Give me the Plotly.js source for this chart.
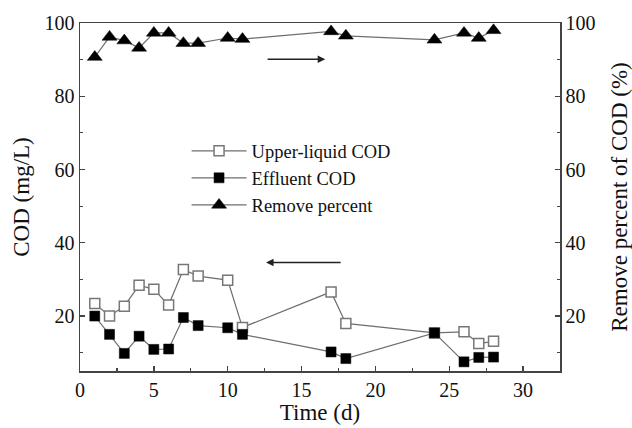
<!DOCTYPE html>
<html>
<head>
<meta charset="utf-8">
<script src="https://cdn.plot.ly/plotly-3.0.1.min.js"></script>
<style>html,body{margin:0;padding:0;background:#fff;}#chart{width:632px;height:428px;}</style>
</head>
<body>
<div id="chart"></div>
<script>
const days = [1, 2, 3, 4, 5, 6, 7, 8, 10, 11, 17, 18, 24, 26, 27, 28];
const upperCOD = [23.4, 20.0, 22.7, 28.4, 27.3, 23.0, 32.7, 30.9, 29.8, 16.9, 26.6, 18.0, 15.4, 15.7, 12.5, 13.1];
const effluentCOD = [20.0, 15.0, 9.8, 14.5, 10.9, 11.0, 19.6, 17.4, 16.8, 15.0, 10.2, 8.4, 15.4, 7.5, 8.7, 8.8];
const removePercent = [90.7, 96.2, 95.2, 93.2, 97.3, 97.3, 94.5, 94.5, 95.9, 95.6, 97.7, 96.5, 95.4, 97.3, 95.9, 98.0];
const seriesNames = ["Upper-liquid COD", "Effluent COD", "Remove percent"];
const xTitle = "Time (d)";
const yTitle = "COD (mg/L)";
const y2Title = "Remove percent of COD (%)";
// arrows: [xFrom, xTo, y]
const arrowRight = [12.6, 16.6, 90.1];
const arrowLeft = [17.75, 12.6, 34.6];

const serif = "Liberation Serif, Times New Roman, serif";
const lineCol = "#6e6e6e";
const axisCol = "#444";

const traces = [
  {x: days, y: upperCOD, name: seriesNames[0], type: "scatter", mode: "lines+markers",
   line: {color: lineCol, width: 1.2},
   marker: {symbol: "square", size: 10, color: "#fff", line: {color: "#777", width: 1.5}}},
  {x: days, y: effluentCOD, name: seriesNames[1], type: "scatter", mode: "lines+markers",
   line: {color: lineCol, width: 1.2},
   marker: {symbol: "square", size: 10, color: "#000", line: {color: "#000", width: 0.5}}},
  {x: days, y: removePercent, name: seriesNames[2], type: "scatter", mode: "lines+markers", yaxis: "y2",
   line: {color: lineCol, width: 1.2},
   marker: {symbol: "triangle-up", size: 13, color: "#000", line: {color: "#000", width: 0.5}}}
];

const axCommon = {
  showgrid: false, zeroline: false, showline: true, linecolor: axisCol, linewidth: 1.5,
  ticks: "inside", ticklen: 5, tickwidth: 1.3, tickcolor: axisCol,
  tickfont: {family: serif, size: 20, color: "#111"}
};

const layout = {
  width: 632, height: 428,
  margin: {l: 80, r: 72, t: 23, b: 57},
  paper_bgcolor: "#fff", plot_bgcolor: "#fff",
  showlegend: true,
  legend: {x: 0.222, y: 0.686, xanchor: "left", yanchor: "top", bgcolor: "rgba(0,0,0,0)",
           font: {family: serif, size: 18.5, color: "#111"}, itemwidth: 55, tracegroupgap: 0},
  xaxis: Object.assign({}, axCommon, {
    range: [0, 32.5], tick0: 0, dtick: 5, mirror: true,
    minor: {ticks: "inside", ticklen: 3, tickwidth: 1.2, tickcolor: axisCol, dtick: 2.5, tick0: 0},
    title: {text: xTitle, font: {family: serif, size: 23, color: "#111"}, standoff: 4}
  }),
  yaxis: Object.assign({}, axCommon, {
    range: [5, 100], tick0: 0, dtick: 20,
    minor: {ticks: "inside", ticklen: 3, tickwidth: 1.2, tickcolor: axisCol, dtick: 10, tick0: 0},
    title: {text: yTitle, font: {family: serif, size: 23, color: "#111"}, standoff: 8}
  }),
  yaxis2: Object.assign({}, axCommon, {
    range: [5, 100], tick0: 0, dtick: 20, overlaying: "y", side: "right",
    minor: {ticks: "inside", ticklen: 3, tickwidth: 1.2, tickcolor: axisCol, dtick: 10, tick0: 0},
    title: {text: y2Title, font: {family: serif, size: 23, color: "#111"}, standoff: 16}
  }),
  annotations: [
    {x: arrowRight[1], y: arrowRight[2], ax: arrowRight[0], ay: arrowRight[2], xref: "x", yref: "y2", axref: "x", ayref: "y2",
     showarrow: true, arrowhead: 2, arrowsize: 1, arrowwidth: 1.5, arrowcolor: "#222", text: ""},
    {x: arrowLeft[1], y: arrowLeft[2], ax: arrowLeft[0], ay: arrowLeft[2], xref: "x", yref: "y", axref: "x", ayref: "y",
     showarrow: true, arrowhead: 2, arrowsize: 1, arrowwidth: 1.5, arrowcolor: "#222", text: ""}
  ]
};

Plotly.newPlot("chart", traces, layout, {displayModeBar: false, staticPlot: true});
</script>
</body>
</html>
